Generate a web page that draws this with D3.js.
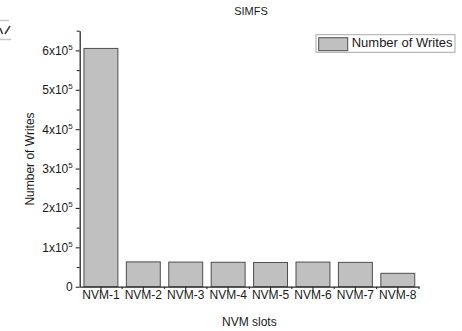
<!DOCTYPE html>
<html>
<head>
<meta charset="utf-8">
<script src="https://cdn.jsdelivr.net/npm/d3@7"></script>
<style>
body { margin: 0; background: #ffffff; }
text { font-family: "Liberation Sans", Arial, sans-serif; fill: #1a1a1a; }
</style>
</head>
<body>
<div id="canvas_simfs"></div>
<script>
// ----------------------------------------------------------
// DATA -----------------------------------------------------
// ----------------------------------------------------------
var slots = ["NVM-1", "NVM-2", "NVM-3", "NVM-4", "NVM-5", "NVM-6", "NVM-7", "NVM-8"];
var writes = [605000, 63000, 62500, 62000, 61500, 62500, 61800, 34000];
var y_major_ticks = [0, 100000, 200000, 300000, 400000, 500000, 600000];
var y_minor_ticks = [50000, 150000, 250000, 350000, 450000, 550000, 650000];
var series_name = "Number of Writes";

// ----------------------------------------------------------
// LAYOUT SETTINGS ------------------------------------------
// ----------------------------------------------------------
var cfg = {
  width: 462,
  height: 331,
  plot_left: 79.7,
  plot_right: 419,
  plot_top: 30.7,
  plot_bottom: 286.7,
  y_max: 650000,
  color_bar: "#c0c0c0",
  color_bar_stroke: "#4d4d4d",
  color_axis: "#2b2b2b",
  color_legend_stroke: "#a8a8a8"
};

// ----------------------------------------------------------
// STRUCTURE ------------------------------------------------
// ----------------------------------------------------------
var svg = d3.select("#canvas_simfs").append("svg")
  .attr("width", cfg.width)
  .attr("height", cfg.height)
  .style("display", "block");

var xScale = d3.scaleBand()
  .domain(slots)
  .range([cfg.plot_left, cfg.plot_right])
  .paddingInner(0.2)
  .paddingOuter(0.1);

var yScale = d3.scaleLinear()
  .domain([0, cfg.y_max])
  .range([cfg.plot_bottom, cfg.plot_top]);

// ----------------------------------------------------------
// BARS -----------------------------------------------------
// ----------------------------------------------------------
svg.append("g").selectAll("rect")
  .data(slots)
  .enter()
  .append("rect")
  .attr("x", function(d) { return xScale(d); })
  .attr("y", function(d, i) { return yScale(writes[i]); })
  .attr("width", xScale.bandwidth())
  .attr("height", function(d, i) { return yScale(0) - yScale(writes[i]); })
  .style("fill", cfg.color_bar)
  .style("stroke", cfg.color_bar_stroke)
  .style("stroke-width", 1);

// ----------------------------------------------------------
// AXES -----------------------------------------------------
// ----------------------------------------------------------
function styleAxis(g) {
  g.select(".domain").attr("stroke", cfg.color_axis).attr("stroke-width", 1.3);
  g.selectAll(".tick line").attr("stroke", cfg.color_axis).attr("stroke-width", 1.1);
}

// y minor ticks
svg.append("g")
  .attr("transform", "translate(" + cfg.plot_left + ",0)")
  .call(d3.axisLeft(yScale).tickValues(y_minor_ticks).tickSize(3).tickSizeOuter(0).tickFormat(""))
  .call(styleAxis);

// y major ticks with x10^n labels
var yAxis = svg.append("g")
  .attr("transform", "translate(" + cfg.plot_left + ",0)")
  .call(d3.axisLeft(yScale).tickValues(y_major_ticks).tickSize(4).tickSizeOuter(0).tickPadding(3))
  .call(styleAxis);
yAxis.select(".domain").remove();
yAxis.selectAll(".tick text")
  .style("font-size", "12px")
  .style("font-family", "'Liberation Sans', Arial, sans-serif")
  .attr("fill", "#1a1a1a")
  .each(function(d) {
    var t = d3.select(this).text("");
    if (d === 0) { t.text("0"); return; }
    t.append("tspan").text((d / 100000) + "x10");
    t.append("tspan").attr("dy", "-5").style("font-size", "8px").text("5");
  });

// x axis: major ticks at slot centres
var xAxis = svg.append("g")
  .attr("transform", "translate(0," + cfg.plot_bottom + ")")
  .call(d3.axisBottom(xScale).tickSize(4).tickSizeOuter(0).tickPadding(0))
  .call(styleAxis);
xAxis.selectAll(".tick text")
  .style("font-size", "12px")
  .style("font-family", "'Liberation Sans', Arial, sans-serif")
  .attr("fill", "#1a1a1a");

// x axis: minor ticks at slot boundaries
var boundaries = slots.map(function(d) { return xScale(d) - xScale.step() * xScale.paddingInner() / 2; });
boundaries.push(cfg.plot_right);
svg.append("g").selectAll("line")
  .data(boundaries.slice(1))
  .enter()
  .append("line")
  .attr("x1", function(d) { return d; })
  .attr("x2", function(d) { return d; })
  .attr("y1", cfg.plot_bottom)
  .attr("y2", cfg.plot_bottom + 2.2)
  .attr("stroke", cfg.color_axis)
  .attr("stroke-width", 1.1);

// ----------------------------------------------------------
// TEXT -----------------------------------------------------
// ----------------------------------------------------------
svg.append("text")
  .attr("x", 251)
  .attr("y", 15)
  .attr("text-anchor", "middle")
  .style("font-size", "11px")
  .text("SIMFS");

svg.append("text")
  .attr("x", (cfg.plot_left + cfg.plot_right) / 2)
  .attr("y", 325.5)
  .attr("text-anchor", "middle")
  .style("font-size", "12px")
  .text("NVM slots");

svg.append("text")
  .attr("transform", "translate(34,159) rotate(-90)")
  .attr("text-anchor", "middle")
  .style("font-size", "12px")
  .text("Number of Writes");

// ----------------------------------------------------------
// LEGEND ---------------------------------------------------
// ----------------------------------------------------------
var legend = svg.append("g").attr("transform", "translate(316,34.7)");
legend.append("rect")
  .attr("width", 139)
  .attr("height", 17.6)
  .style("fill", "#ffffff")
  .style("stroke", cfg.color_legend_stroke)
  .style("stroke-width", 1);
legend.append("rect")
  .attr("x", 2.7)
  .attr("y", 3)
  .attr("width", 29)
  .attr("height", 13)
  .style("fill", cfg.color_bar)
  .style("stroke", cfg.color_bar_stroke)
  .style("stroke-width", 1);
legend.append("text")
  .attr("x", 35.7)
  .attr("y", 12.8)
  .style("font-size", "13px")
  .text(series_name);

// ----------------------------------------------------------
// CROPPED FRAGMENT AT TOP LEFT -----------------------------
// ----------------------------------------------------------
var frag = svg.append("g");
frag.append("line").attr("x1", 0).attr("x2", 9).attr("y1", 20.5).attr("y2", 20.5)
  .attr("stroke", "#c8c8c8").attr("stroke-width", 1.5);
frag.append("line").attr("x1", 0).attr("x2", 11).attr("y1", 39.5).attr("y2", 39.5)
  .attr("stroke", "#c8c8c8").attr("stroke-width", 1.5);
frag.append("path").attr("d", "M0,28 L2.5,34 M5,34 L10,26")
  .attr("fill", "none").attr("stroke", "#444").attr("stroke-width", 1.6);
</script>
</body>
</html>
